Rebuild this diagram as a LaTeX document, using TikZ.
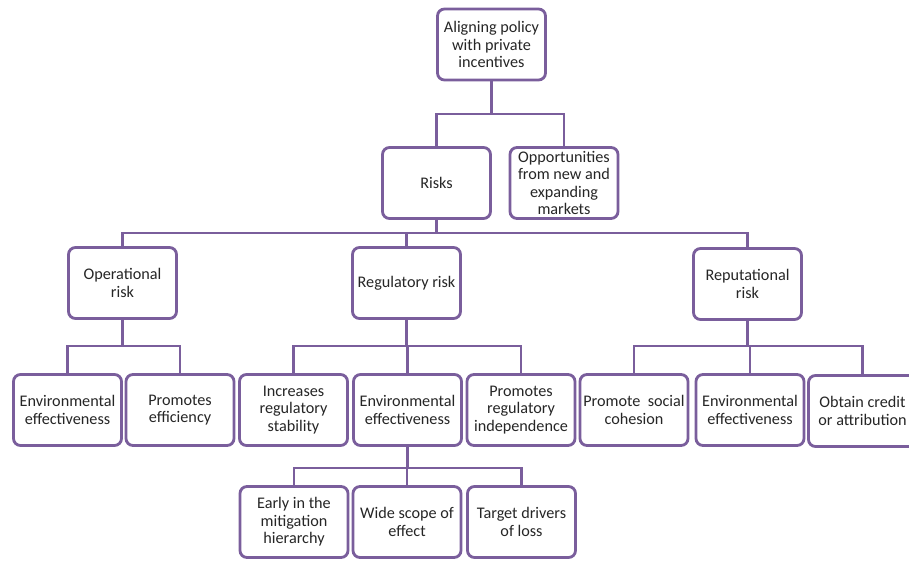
\documentclass[tikz,border=0pt]{standalone}
\usepackage{fontspec}
\setmainfont{Carlito}
\definecolor{pur}{RGB}{122,94,156}
\definecolor{txt}{RGB}{38,38,38}
\tikzset{
  box/.style={draw=pur, line width=2.8pt, rounded corners=7pt, fill=white,
    minimum width=108pt, minimum height=71pt, inner sep=1pt, align=center,
    text=txt, font=\fontsize{16.2}{17.6}\selectfont},
  link/.style={draw=pur, line width=2.8pt}
}
\begin{document}
\begin{tikzpicture}[x=1pt,y=1pt]
\useasboundingbox (0,0) rectangle (909,-561);
\fill[white] (0,0) rectangle (909,-561);
% bus levels
\coordinate (b1) at (0,-114);
\coordinate (b2) at (0,-233);
\coordinate (b3) at (0,-346);
\coordinate (b4) at (0,-468);
\node[box] (top) at (491.5,-44.5) {Aligning policy\\with private\\incentives};
\node[box] (risks) at (436.5,-183) {Risks};
\node[box] (opp) at (564,-183) {Opportunities\\from new and\\expanding\\markets};
\node[box] (oper) at (122.5,-283) {Operational\\risk};
\node[box] (reg) at (406.5,-283) {Regulatory risk};
\node[box] (rep) at (747.5,-284) {Reputational\\risk};
\node[box] (env1) at (67.5,-410) {Environmental\\effectiveness};
\node[box] (eff) at (180,-410) {Promotes\\efficiency};
\node[box] (inc) at (293.5,-410) {Increases\\regulatory\\stability};
\node[box] (env2) at (407.5,-410) {Environmental\\effectiveness};
\node[box] (indep) at (521,-410) {Promotes\\regulatory\\independence};
\node[box] (soc) at (634,-410) {Promote\ \ social\\cohesion};
\node[box] (env3) at (750,-410) {Environmental\\effectiveness};
\node[box] (cred) at (862.5,-411) {Obtain credit\\or attribution};
\node[box] (early) at (294,-522) {Early in the\\mitigation\\hierarchy};
\node[box] (wide) at (407,-522) {Wide scope of\\effect};
\node[box] (target) at (521.5,-522) {Target drivers\\of loss};
\draw[link] (top.south) -- (top.south |- b1) -| (risks.north);
\draw[link] (top.south |- b1) -| (opp.north);
\draw[link] (risks.south) -- (risks.south |- b2) -| (oper.north);
\draw[link] (risks.south |- b2) -| (reg.north);
\draw[link] (risks.south |- b2) -| (rep.north);
\draw[link] (oper.south) -- (oper.south |- b3) -| (env1.north);
\draw[link] (oper.south |- b3) -| (eff.north);
\draw[link] (reg.south) -- (reg.south |- b3) -| (inc.north);
\draw[link] (reg.south |- b3) -| (env2.north);
\draw[link] (reg.south |- b3) -| (indep.north);
\draw[link] (rep.south) -- (rep.south |- b3) -| (soc.north);
\draw[link] (rep.south |- b3) -| (env3.north);
\draw[link] (rep.south |- b3) -| (cred.north);
\draw[link] (env2.south) -- (env2.south |- b4) -| (early.north);
\draw[link] (env2.south |- b4) -| (wide.north);
\draw[link] (env2.south |- b4) -| (target.north);
\end{tikzpicture}
\end{document}
